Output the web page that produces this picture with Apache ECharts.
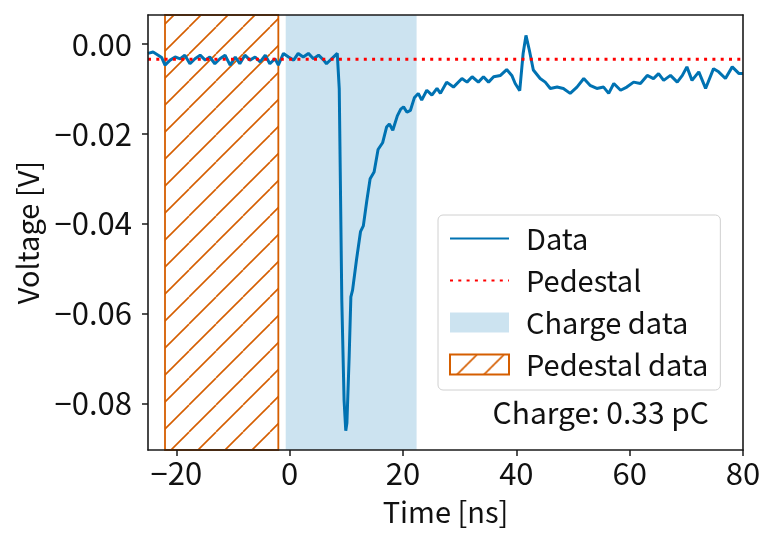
<!DOCTYPE html>
<html>
<head>
<meta charset="utf-8">
<script src="https://cdn.jsdelivr.net/npm/echarts@6/dist/echarts.min.js"></script>
<style>
  html, body { margin: 0; padding: 0; background: #fff; }
  #main { width: 777px; height: 543px; }
</style>
</head>
<body>
<div id="main"></div>
<script>
// waveform (time in ns, voltage in V)
var times = [
  -25.0, -24.1, -23.2, -22.6, -22.0, -21.1, -20.2, -19.3, -18.5, -17.6,
  -16.7, -15.8, -14.9, -14.1, -13.2, -12.3, -11.4, -10.5, -9.6, -8.8,
  -7.9, -7.0, -6.1, -5.2, -4.3, -3.5, -2.6, -2.0, -1.1, -0.2,
  0.7, 1.5, 2.4, 3.3, 4.2, 5.1, 6.0, 6.5, 7.4, 8.4,
  8.6, 8.75, 9.2, 9.6, 9.9, 10.1, 10.5, 10.8, 11.1, 11.8,
  12.5, 13.0, 13.6, 14.2, 14.9, 15.6, 16.4, 17.1, 17.6, 18.2,
  19.0, 19.6, 20.1, 20.7, 21.3, 22.0, 22.7, 23.3, 24.2, 25.1,
  26.0, 26.6, 27.7, 28.9, 30.4, 31.3, 32.2, 33.3, 34.2, 35.1,
  36.0, 37.2, 38.3, 39.2, 39.8, 40.6, 41.2, 41.7, 42.3, 43.0,
  44.2, 45.1, 46.0, 47.2, 48.3, 49.5, 50.7, 51.9, 53.0, 54.2,
  55.4, 56.3, 57.2, 58.4, 59.5, 60.7, 61.9, 63.1, 64.2, 65.1,
  66.0, 67.2, 68.4, 69.3, 70.1, 71.0, 72.2, 73.4, 74.8, 75.7,
  76.9, 78.1, 79.3, 80.0
];
var volts = [
  -0.0021, -0.0018, -0.0025, -0.0030, -0.0047, -0.0036, -0.0029, -0.0033, -0.0025, -0.0044,
  -0.0033, -0.0025, -0.0036, -0.0029, -0.0044, -0.0033, -0.0025, -0.0047, -0.0029, -0.0044,
  -0.0025, -0.0036, -0.0029, -0.0040, -0.0025, -0.0044, -0.0033, -0.0047, -0.0021, -0.0029,
  -0.0036, -0.0021, -0.0029, -0.0021, -0.0033, -0.0025, -0.0036, -0.0044, -0.0033, -0.0021,
  -0.0020, -0.0100, -0.0570, -0.0793, -0.0861, -0.0844, -0.0696, -0.0563, -0.0548, -0.0480,
  -0.0418, -0.0405, -0.0350, -0.0300, -0.0285, -0.0235, -0.0220, -0.0185, -0.0178, -0.0192,
  -0.0160, -0.0145, -0.0140, -0.0152, -0.0148, -0.0120, -0.0110, -0.0125, -0.0103, -0.0114,
  -0.0099, -0.0110, -0.0085, -0.0096, -0.0077, -0.0085, -0.0073, -0.0085, -0.0073, -0.0085,
  -0.0073, -0.0070, -0.0057, -0.0070, -0.0088, -0.0104, -0.0021, 0.0019, -0.0014, -0.0058,
  -0.0077, -0.0085, -0.0099, -0.0096, -0.0099, -0.0110, -0.0096, -0.0077, -0.0092, -0.0099,
  -0.0096, -0.0110, -0.0088, -0.0103, -0.0096, -0.0085, -0.0088, -0.0070, -0.0077, -0.0066,
  -0.0081, -0.0070, -0.0085, -0.0070, -0.0051, -0.0081, -0.0062, -0.0099, -0.0055, -0.0062,
  -0.0077, -0.0051, -0.0066, -0.0066
];
var pedestal = -0.0034;
var chargeRange = [-0.7, 22.4];
var pedestalRange = [-22, -2];
var chargeText = 'Charge: 0.33 pC';
var xTicks = [-20, 0, 20, 40, 60, 80];
var yTicks = [-0.08, -0.06, -0.04, -0.02, 0.0];
var xRange = [-25, 80];
var yRange = [-0.0904, 0.00645];

var FONT = 'Noto Sans CJK JP';
var FS = 31;
var BLUE = '#0072B2';
var ORANGE = '#D55E00';

// hatch pattern for the pedestal window
function hatch() {
  var s = 27;
  var c = document.createElement('canvas');
  c.width = s; c.height = s;
  var g = c.getContext('2d');
  g.strokeStyle = ORANGE;
  g.lineWidth = 1.6;
  for (var k = -1; k <= 1; k++) {
    g.beginPath();
    g.moveTo(k * s, s);
    g.lineTo(k * s + s, 0);
    g.stroke();
  }
  return { image: c, repeat: 'repeat' };
}
var hatchFill = hatch();

var line = [];
for (var i = 0; i < times.length; i++) line.push([times[i], volts[i]]);

function minus(v) { return v < 0 ? '\u2212' + Math.abs(v) : String(v); }

var chart = echarts.init(document.getElementById('main'), null, { renderer: 'canvas' });
var frame = { show: true, onZero: false, lineStyle: { color: '#1a1a1a', width: 1.6 } };
chart.setOption({
  animation: false,
  textStyle: { fontFamily: FONT },
  grid: { left: 148, right: 34, top: 15, bottom: 93, outerBoundsMode: 'none', containLabel: false },
  xAxis: [{
    type: 'value', min: xRange[0], max: xRange[1], splitNumber: 5, z: 10,
    name: 'Time [ns]', nameLocation: 'middle', nameGap: 47,
    nameTextStyle: { fontFamily: FONT, fontSize: 29, color: '#111' },
    axisLine: frame,
    axisTick: { show: true, length: 6, inside: false, lineStyle: { color: '#1a1a1a', width: 1.5 }, customValues: xTicks },
    axisLabel: { fontFamily: FONT, fontSize: FS, color: '#111', margin: 8, customValues: xTicks,
      formatter: function (v) { return minus(v); } },
    splitLine: { show: false }
  }, {
    type: 'value', position: 'top', min: xRange[0], max: xRange[1], z: 10,
    axisLine: frame, axisTick: { show: false }, axisLabel: { show: false }, splitLine: { show: false }
  }],
  yAxis: [{
    type: 'value', min: yRange[0], max: yRange[1], z: 10,
    name: 'Voltage [V]', nameLocation: 'middle', nameGap: 106,
    nameTextStyle: { fontFamily: FONT, fontSize: 29, color: '#111' },
    axisLine: frame,
    axisTick: { show: true, length: 6, lineStyle: { color: '#1a1a1a', width: 1.5 }, customValues: yTicks },
    axisLabel: { fontFamily: FONT, fontSize: FS, color: '#111', margin: 16, customValues: yTicks,
      formatter: function (v) { return (v < 0 ? '\u2212' : '') + Math.abs(v).toFixed(2); } },
    splitLine: { show: false }
  }, {
    type: 'value', position: 'right', min: yRange[0], max: yRange[1], z: 10,
    axisLine: frame, axisTick: { show: false }, axisLabel: { show: false }, splitLine: { show: false }
  }],
  legend: {
    orient: 'vertical', left: 438, top: 215,
    itemWidth: 59, itemHeight: 20, itemGap: 13,
    padding: [9, 12, 11, 11],
    backgroundColor: 'rgba(255,255,255,0.85)',
    borderColor: '#d0d0d0', borderWidth: 1, borderRadius: 5,
    selectedMode: false,
    textStyle: { fontFamily: FONT, fontSize: 29, color: '#111', padding: [0, 0, 0, 12] },
    data: [
      { name: 'Data', itemStyle: { opacity: 0 } },
      { name: 'Pedestal', itemStyle: { opacity: 0 } },
      { name: 'Charge data', icon: 'rect' },
      { name: 'Pedestal data', icon: 'rect' }
    ]
  },
  graphic: [{
    type: 'text', right: 68, top: 398, z: 20,
    style: { text: chargeText, font: '30px "' + FONT + '"', fill: '#111' }
  }],
  series: [{
    name: 'Charge data', type: 'bar', data: [],
    itemStyle: { color: 'rgba(0,114,178,0.2)' },
    markArea: {
      silent: true,
      itemStyle: { color: 'rgba(0,114,178,0.2)' },
      data: [[{ xAxis: chargeRange[0] }, { xAxis: chargeRange[1] }]]
    }
  }, {
    name: 'Pedestal data', type: 'bar', data: [],
    itemStyle: { color: hatchFill, borderColor: ORANGE, borderWidth: 1.5 },
    markArea: {
      silent: true,
      itemStyle: { color: hatchFill, borderColor: ORANGE, borderWidth: 1.8 },
      data: [[{ xAxis: pedestalRange[0] }, { xAxis: pedestalRange[1] }]]
    }
  }, {
    name: 'Data', type: 'line', data: line, showSymbol: false, symbol: 'none', z: 4,
    lineStyle: { color: BLUE, width: 3 }, itemStyle: { color: BLUE }
  }, {
    name: 'Pedestal', type: 'line', data: [[xRange[0], pedestal], [xRange[1], pedestal]],
    showSymbol: false, symbol: 'none', z: 5,
    lineStyle: { color: '#ff0000', width: 3, type: [3, 5.3] }, itemStyle: { color: '#ff0000' }
  }]
});
</script>
</body>
</html>
